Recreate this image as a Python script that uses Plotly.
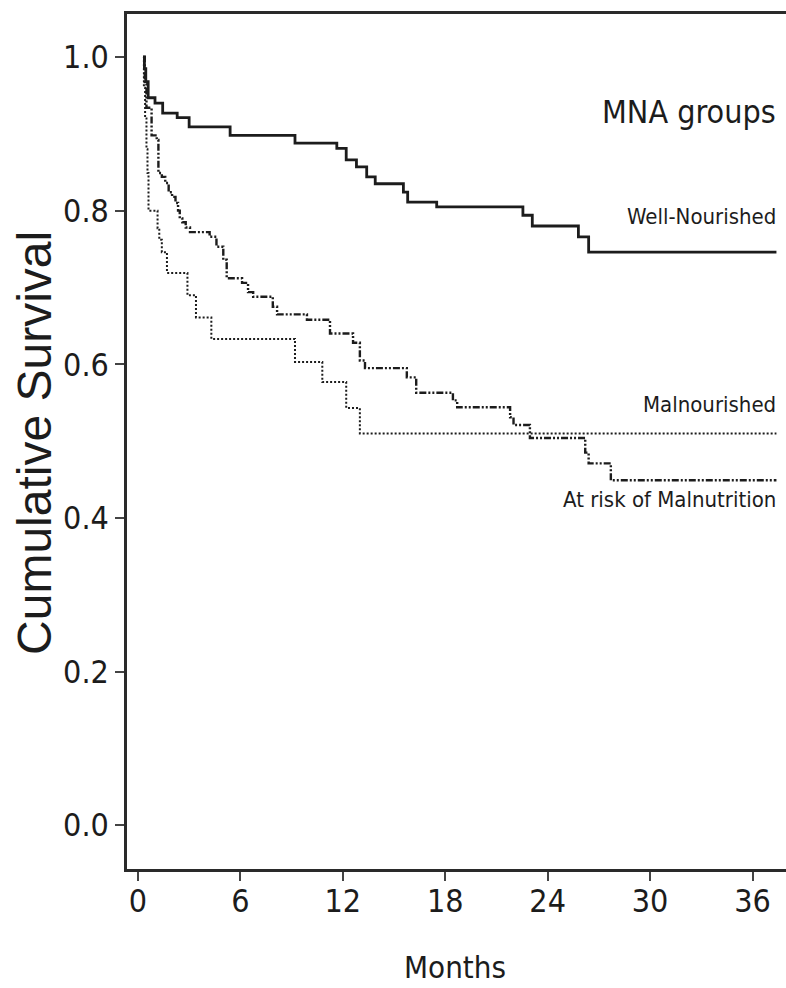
import plotly.graph_objects as go

# Months / cumulative survival
well_t = [0.3, 0.38, 0.46, 0.6, 1.0, 1.45, 2.3, 3.0, 5.4, 9.2, 11.65, 12.2, 12.8, 13.4, 13.9,
          15.55, 15.8, 17.5, 22.55, 23.1, 25.8, 26.4, 37.4]
well_s = [1.0, 0.985, 0.968, 0.947, 0.94, 0.927, 0.921, 0.909, 0.898, 0.888, 0.881, 0.866, 0.857,
          0.844, 0.835, 0.824, 0.811, 0.805, 0.794, 0.78, 0.766, 0.746, 0.746]

risk_t = [0.3, 0.4, 0.5, 0.8, 1.1, 1.2, 1.4, 1.6, 1.8, 2.0, 2.2, 2.35, 2.45, 2.6, 2.8, 3.05, 4.2,
          4.6, 5.0, 5.2, 6.1, 6.45, 6.75, 7.9, 8.15, 9.9, 11.25, 12.6, 13.0, 13.3, 15.75, 16.3,
          18.45, 18.7, 21.8, 22.0, 22.96, 26.2, 26.4, 27.7, 37.4]
risk_s = [1.0, 0.965, 0.934, 0.898, 0.892, 0.849, 0.844, 0.836, 0.824, 0.818, 0.81, 0.80, 0.79,
          0.785, 0.778, 0.772, 0.766, 0.753, 0.736, 0.712, 0.706, 0.694, 0.688, 0.675, 0.665,
          0.658, 0.640, 0.628, 0.605, 0.595, 0.583, 0.563, 0.553, 0.544, 0.531, 0.521, 0.504,
          0.485, 0.471, 0.449, 0.449]

mal_t = [0.3, 0.35, 0.42, 0.5, 0.56, 0.62, 1.15, 1.25, 1.4, 1.7, 2.9, 3.4, 4.3, 9.2, 10.8, 12.2,
         13.0, 37.4]
mal_s = [1.0, 0.96, 0.92, 0.88, 0.849, 0.80, 0.777, 0.762, 0.746, 0.719, 0.69, 0.661, 0.633,
         0.603, 0.577, 0.543, 0.51, 0.51]

x_ticks = [0, 6, 12, 18, 24, 30, 36]
y_ticks = [0.0, 0.2, 0.4, 0.6, 0.8, 1.0]
y_tick_text = ["0.0", "0.2", "0.4", "0.6", "0.8", "1.0"]

group_labels = ["Well-Nourished", "Malnourished", "At risk of Malnutrition"]

NARROW = "Liberation Sans Narrow, Arial Narrow, DejaVu Sans Condensed, sans-serif"
INK = "#1c1c1c"

fig = go.Figure()
fig.add_trace(go.Scatter(x=mal_t, y=mal_s, mode="lines", line_shape="hv",
                         line=dict(color=INK, width=2, dash="2px,2px"), name=group_labels[1]))
fig.add_trace(go.Scatter(x=risk_t, y=risk_s, mode="lines", line_shape="hv",
                         line=dict(color=INK, width=2.4, dash="7px,2px,2px,2px,2px,2px"),
                         name=group_labels[2]))
fig.add_trace(go.Scatter(x=well_t, y=well_s, mode="lines", line_shape="hv",
                         line=dict(color=INK, width=2.8), name=group_labels[0]))

axis_common = dict(showgrid=False, zeroline=False, showline=True, linecolor="#2a2a2a",
                   linewidth=2.5, ticks="outside", ticklen=9, tickwidth=2, tickcolor="#444",
                   tickfont=dict(family=NARROW, size=32, color=INK))

fig.update_xaxes(range=[-0.64, 37.96], tickvals=x_ticks, mirror=True, ticklabelstandoff=-7,
                 **axis_common)
fig.update_yaxes(range=[-0.057, 1.056], tickvals=y_ticks, ticktext=y_tick_text, mirror=False,
                 **axis_common)

annots = [
    dict(text="MNA groups", x=0.9879, y=0.8854, size=32),
    dict(text=group_labels[0], x=0.9879, y=0.7626, size=22),
    dict(text=group_labels[1], x=0.9879, y=0.5427, size=22),
    dict(text=group_labels[2], x=0.9879, y=0.4316, size=22),
]
for a in annots:
    fig.add_annotation(text=a["text"], x=a["x"], y=a["y"], xref="paper", yref="paper",
                       xanchor="right", yanchor="middle", showarrow=False,
                       font=dict(family=NARROW, size=a["size"], color=INK))

fig.add_annotation(text="Months", x=0.4977, y=-0.1146, xref="paper", yref="paper",
                   xanchor="center", yanchor="middle", showarrow=False,
                   font=dict(family=NARROW, size=31, color=INK))
fig.add_annotation(text="Cumulative Survival", x=-0.1396, y=0.4983, xref="paper", yref="paper",
                   xanchor="center", yanchor="middle", textangle=-90, showarrow=False,
                   font=dict(family="Liberation Sans, Arial, sans-serif", size=48, color=INK))

fig.update_layout(width=786, height=988, margin=dict(l=127, r=0, t=14, b=119),
                  paper_bgcolor="white", plot_bgcolor="white", showlegend=False)

fig.write_html(
    "out.html",
    config={"displayModeBar": False},
    post_script="document.body.style.margin='0';document.documentElement.style.overflow='hidden';",
)
